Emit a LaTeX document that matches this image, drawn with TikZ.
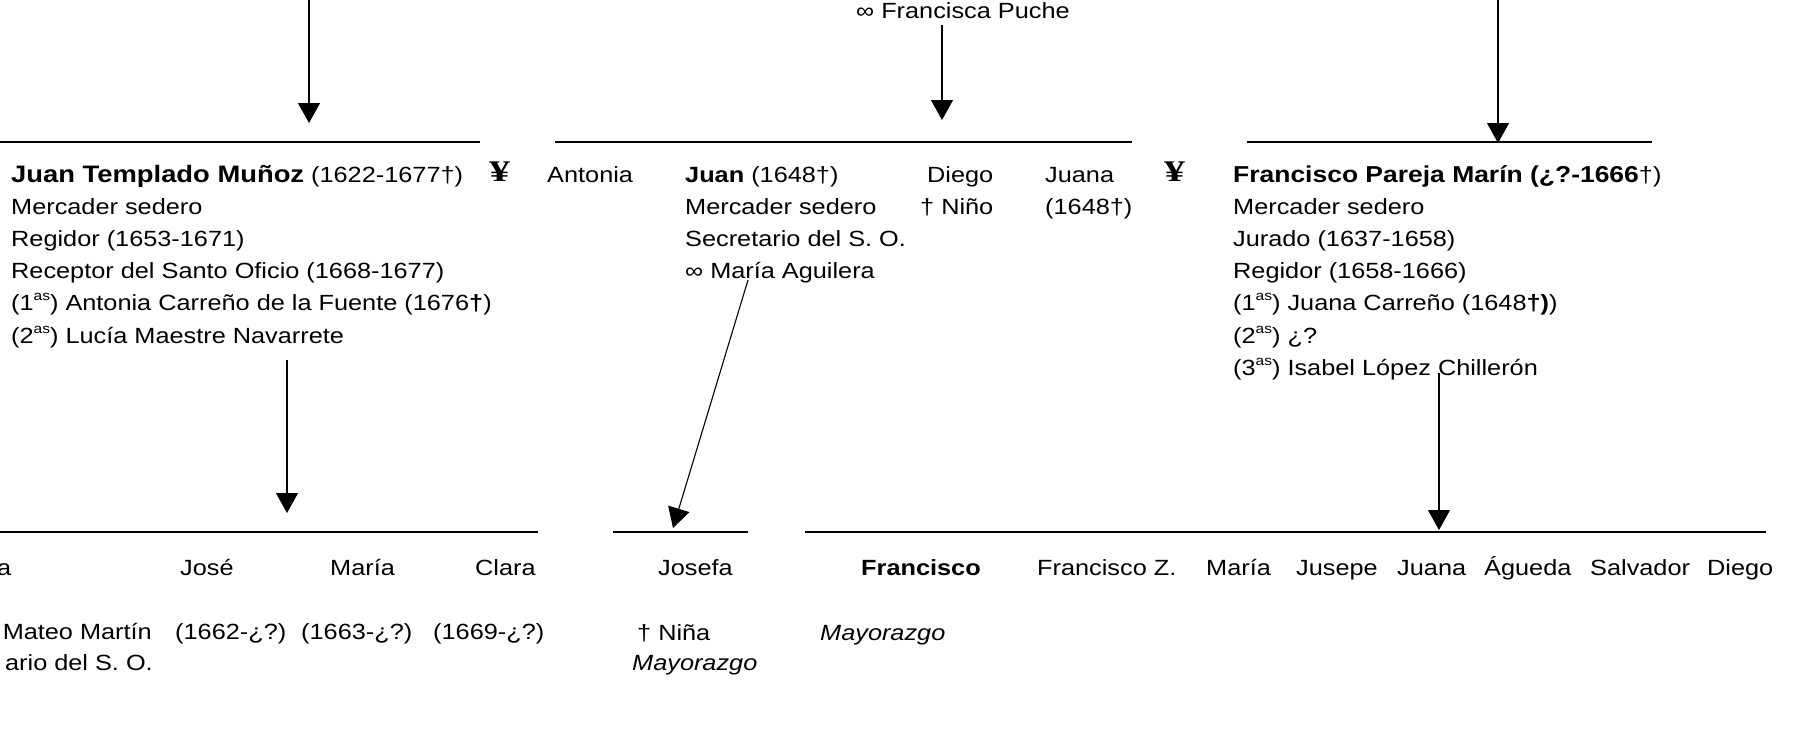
\documentclass[tikz,border=0pt]{standalone}
\usepackage{fontspec}
\setmainfont{Liberation Sans}[FakeStretch=1.15]
\newfontfamily\yenfont{Liberation Serif}[FakeStretch=1.4]
\usetikzlibrary{arrows.meta}
\newcommand\supas[1]{\raisebox{10pt}{\fontsize{13.5}{14}\selectfont #1}}
\newcommand\bignm[2][23]{{\fontsize{#1}{32.2}\selectfont\bfseries #2}}
\begin{document}
\begin{tikzpicture}[x=1pt,y=-1pt,
  txt/.style={anchor=base west,inner sep=0pt,font=\fontsize{22}{32.2}\selectfont},
  txte/.style={txt,anchor=base east},
  yen/.style={anchor=base west,inner sep=0pt,font=\yenfont\bfseries\fontsize{30}{30}\selectfont},
  hline/.style={line width=1.5pt},
  arr/.style={line width=1.1pt,-{Triangle[width=22pt,length=20pt]}}]
\useasboundingbox (0,0) rectangle (1795,742);
\clip (0,0) rectangle (1795,742);
\fill[white] (0,0) rectangle (1795,742);

% ---------- horizontal bars ----------
\coordinate (a1) at (0,142);    \coordinate (a2) at (480,142);
\coordinate (b1) at (555,142);  \coordinate (b2) at (1132,142);
\coordinate (c1) at (1247,142); \coordinate (c2) at (1652,142);
\coordinate (d1) at (0,532);    \coordinate (d2) at (538,532);
\coordinate (e1) at (613,532);  \coordinate (e2) at (748,532);
\coordinate (f1) at (805,532);  \coordinate (f2) at (1766,532);
\draw[hline] (a1) -- (a2);
\draw[hline] (b1) -- (b2);
\draw[hline] (c1) -- (c2);
\draw[hline] (d1) -- (d2);
\draw[hline] (e1) -- (e2);
\draw[hline] (f1) -- (f2);

% ---------- top ----------
\node[txt] (puche) at (856,18) {∞ Francisca Puche};

% ---------- generation 1 ----------
\node[txt] (jtm) at (11,182) {\begin{tabular}[t]{@{}l@{}}
\bignm[23.8]{Juan Templado Muñoz} (1622-1677†)\\
Mercader sedero\\
Regidor (1653-1671)\\
Receptor del Santo Oficio (1668-1677)\\
(1\supas{as}) Antonia Carreño de la Fuente (1676\textbf{†})\\
(2\supas{as}) Lucía Maestre Navarrete
\end{tabular}};
\node[yen] (yen1) at (489,181) {¥};
\node[txt] (antonia) at (547,182) {Antonia};
\node[txt] (juan) at (685,182) {\begin{tabular}[t]{@{}l@{}}
\textbf{Juan} (1648†)\\
Mercader sedero\\
Secretario del S. O.\\
∞ María Aguilera
\end{tabular}};
\node[txt] (diego) at (927,182) {Diego};
\node[txt] (nino) at (920,214.2) {† Niño};
\node[txt] (juana) at (1045,182) {Juana};
\node[txt] (juanad) at (1045,214.2) {(1648†)};
\node[yen] (yen2) at (1164,181) {¥};
\node[txt] (fpm) at (1233,182) {\begin{tabular}[t]{@{}l@{}}
\bignm{Francisco Pareja Marín (¿?-1666}†)\\
Mercader sedero\\
Jurado (1637-1658)\\
Regidor (1658-1666)\\
(1\supas{as}) Juana Carreño (1648\textbf{†)})\\
(2\supas{as}) ¿?\\
(3\supas{as}) Isabel López Chillerón
\end{tabular}};

% ---------- generation 2 ----------
\node[txte] (g1) at (11.5,575) {a};
\node[txt] (jose) at (180,575) {José};
\node[txt] (maria1) at (330,575) {María};
\node[txt] (clara) at (475,575) {Clara};
\node[txt] (josefa) at (658,575) {Josefa};
\node[txt] (fco) at (861,575) {\textbf{Francisco}};
\node[txt] (fcoz) at (1037,575) {Francisco Z.};
\node[txt] (maria2) at (1206,575) {María};
\node[txt] (jusepe) at (1296,575) {Jusepe};
\node[txt] (juana2) at (1397,575) {Juana};
\node[txt] (agueda) at (1484,575) {Águeda};
\node[txt] (salvador) at (1590,575) {Salvador};
\node[txt] (diego2) at (1707,575) {Diego};

\node[txte] (mateo) at (152,639) {Mateo Martín};
\node[txt] (jose2) at (175,639) {(1662-¿?)};
\node[txt] (maria1b) at (301,639) {(1663-¿?)};
\node[txt] (clara2) at (433,639) {(1669-¿?)};
\node[txt] (nina) at (637,640) {† Niña};
\node[txt] (may2) at (820,640) {\itshape Mayorazgo};
\node[txte] (secr) at (153,670) {ario del S. O.};
\node[txt] (may1) at (632,670) {\itshape Mayorazgo};

% ---------- arrows ----------
\coordinate (tl0) at (309,-5);   \coordinate (tl1) at (309,123);
\coordinate (tm0) at (942,25);   \coordinate (tm1) at (942,120);
\coordinate (tr0) at (1498,-5);  \coordinate (tr1) at (1498,143);
\coordinate (bl0) at (287,360);  \coordinate (bl1) at (287,513);
\coordinate (bm0) at (748,280);  \coordinate (bm1) at (673,528);
\coordinate (br0) at (1439,373); \coordinate (br1) at (1439,530);
\draw[arr] (tl0) -- (tl1);
\draw[arr] (tm0) -- (tm1);
\draw[arr] (tr0) -- (tr1);
\draw[arr] (bl0) -- (bl1);
\draw[arr] (bm0) -- (bm1);
\draw[arr] (br0) -- (br1);
\end{tikzpicture}
\end{document}
